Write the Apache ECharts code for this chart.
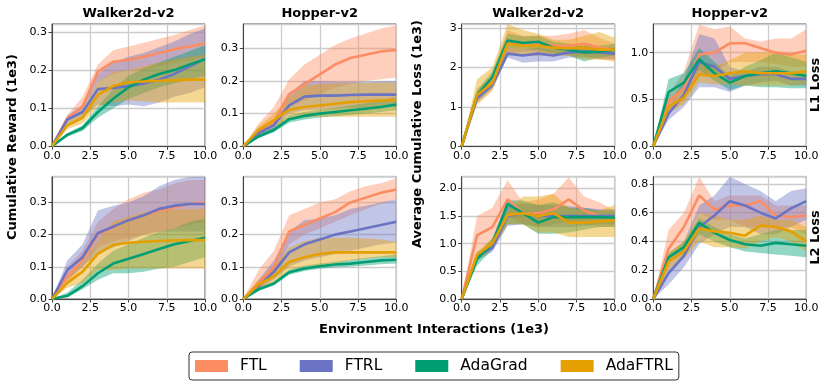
<!DOCTYPE html>
<html>
<head>
<meta charset="utf-8">
<script src="https://cdn.jsdelivr.net/npm/echarts@6/dist/echarts.min.js"></script>
<style>html,body{margin:0;padding:0;background:#fff}#main{width:831px;height:388px}</style>
</head>
<body>
<div id="main"></div>
<script>
// ---------------- DATA ----------------
const steps = [0, 1, 2, 3, 4, 5, 6, 7, 8, 9, 10];
const methods = ['FTL', 'FTRL', 'AdaGrad', 'AdaFTRL'];
const xTicks = [0, 2.5, 5, 7.5, 10];

// Panel 1: Walker2d-v2, cumulative reward, L1 row
const wRewL1_FTL_mean = [0, 0.073, 0.104, 0.196, 0.222, 0.227, 0.235, 0.245, 0.255, 0.262, 0.270];
const wRewL1_FTL_lo   = [0, 0.065, 0.095, 0.170, 0.190, 0.200, 0.200, 0.210, 0.220, 0.225, 0.235];
const wRewL1_FTL_hi   = [0, 0.082, 0.130, 0.215, 0.252, 0.262, 0.272, 0.282, 0.292, 0.305, 0.318];
const wRewL1_FTRL_mean = [0, 0.070, 0.090, 0.150, 0.153, 0.158, 0.165, 0.175, 0.190, 0.210, 0.230];
const wRewL1_FTRL_lo   = [0, 0.060, 0.075, 0.110, 0.105, 0.110, 0.105, 0.115, 0.130, 0.140, 0.155];
const wRewL1_FTRL_hi   = [0, 0.080, 0.110, 0.190, 0.220, 0.235, 0.245, 0.260, 0.275, 0.295, 0.310];
const wRewL1_AdaGrad_mean = [0, 0.030, 0.048, 0.090, 0.125, 0.155, 0.175, 0.190, 0.200, 0.215, 0.228];
const wRewL1_AdaGrad_lo   = [0, 0.025, 0.040, 0.075, 0.100, 0.125, 0.140, 0.155, 0.165, 0.175, 0.185];
const wRewL1_AdaGrad_hi   = [0, 0.035, 0.055, 0.105, 0.150, 0.185, 0.205, 0.220, 0.235, 0.250, 0.265];
const wRewL1_AdaFTRL_mean = [0, 0.055, 0.075, 0.135, 0.158, 0.168, 0.170, 0.172, 0.173, 0.175, 0.175];
const wRewL1_AdaFTRL_lo   = [0, 0.045, 0.060, 0.105, 0.115, 0.120, 0.118, 0.115, 0.115, 0.115, 0.115];
const wRewL1_AdaFTRL_hi   = [0, 0.065, 0.095, 0.170, 0.195, 0.200, 0.210, 0.220, 0.228, 0.235, 0.240];

// Panel 2: Hopper-v2, cumulative reward, L1 row
const hRewL1_FTL_mean = [0, 0.045, 0.075, 0.160, 0.190, 0.220, 0.250, 0.270, 0.280, 0.290, 0.295];
const hRewL1_FTL_lo   = [0, 0.030, 0.055, 0.120, 0.140, 0.160, 0.180, 0.190, 0.200, 0.205, 0.210];
const hRewL1_FTL_hi   = [0, 0.070, 0.120, 0.205, 0.250, 0.280, 0.310, 0.330, 0.345, 0.360, 0.370];
const hRewL1_FTRL_mean = [0, 0.040, 0.065, 0.125, 0.152, 0.155, 0.155, 0.157, 0.158, 0.158, 0.158];
const hRewL1_FTRL_lo   = [0, 0.032, 0.050, 0.100, 0.110, 0.112, 0.115, 0.117, 0.118, 0.120, 0.120];
const hRewL1_FTRL_hi   = [0, 0.050, 0.080, 0.160, 0.200, 0.200, 0.198, 0.198, 0.198, 0.200, 0.200];
const hRewL1_AdaGrad_mean = [0, 0.030, 0.050, 0.083, 0.093, 0.100, 0.105, 0.110, 0.115, 0.120, 0.128];
const hRewL1_AdaGrad_lo   = [0, 0.025, 0.043, 0.072, 0.082, 0.088, 0.092, 0.096, 0.100, 0.105, 0.110];
const hRewL1_AdaGrad_hi   = [0, 0.036, 0.058, 0.095, 0.105, 0.112, 0.118, 0.125, 0.132, 0.140, 0.150];
const hRewL1_AdaFTRL_mean = [0, 0.050, 0.080, 0.112, 0.120, 0.125, 0.130, 0.135, 0.138, 0.140, 0.142];
const hRewL1_AdaFTRL_lo   = [0, 0.038, 0.060, 0.080, 0.088, 0.090, 0.090, 0.090, 0.090, 0.090, 0.090];
const hRewL1_AdaFTRL_hi   = [0, 0.062, 0.100, 0.150, 0.185, 0.190, 0.192, 0.193, 0.194, 0.195, 0.195];

// Panel 3: Walker2d-v2, average cumulative loss, L1 row
const wLossL1_FTL_mean = [0, 1.30, 1.65, 2.60, 2.60, 2.62, 2.55, 2.55, 2.60, 2.50, 2.45];
const wLossL1_FTL_lo   = [0, 1.15, 1.50, 2.35, 2.40, 2.40, 2.30, 2.30, 2.30, 2.20, 2.20];
const wLossL1_FTL_hi   = [0, 1.45, 1.80, 2.95, 2.80, 2.80, 2.80, 2.85, 2.95, 2.75, 2.60];
const wLossL1_FTRL_mean = [0, 1.22, 1.55, 2.35, 2.30, 2.35, 2.30, 2.38, 2.40, 2.38, 2.35];
const wLossL1_FTRL_lo   = [0, 1.10, 1.45, 2.25, 2.12, 2.15, 2.15, 2.25, 2.25, 2.22, 2.20];
const wLossL1_FTRL_hi   = [0, 1.35, 1.65, 2.50, 2.45, 2.50, 2.45, 2.50, 2.55, 2.50, 2.50];
const wLossL1_AdaGrad_mean = [0, 1.30, 1.75, 2.68, 2.62, 2.65, 2.50, 2.45, 2.38, 2.40, 2.45];
const wLossL1_AdaGrad_lo   = [0, 1.18, 1.60, 2.50, 2.45, 2.45, 2.35, 2.30, 2.15, 2.25, 2.30];
const wLossL1_AdaGrad_hi   = [0, 1.42, 1.90, 2.85, 2.78, 2.80, 2.65, 2.60, 2.55, 2.55, 2.60];
const wLossL1_AdaFTRL_mean = [0, 1.30, 1.60, 2.60, 2.55, 2.55, 2.50, 2.48, 2.50, 2.45, 2.45];
const wLossL1_AdaFTRL_lo   = [0, 1.05, 1.40, 2.30, 2.30, 2.30, 2.30, 2.30, 2.20, 2.20, 2.15];
const wLossL1_AdaFTRL_hi   = [0, 1.70, 2.00, 3.10, 2.95, 2.85, 2.70, 2.70, 2.80, 2.90, 2.75];

// Panel 4: Hopper-v2, average cumulative loss, L1 row
const hLossL1_FTL_mean = [0, 0.48, 0.62, 0.98, 1.00, 1.10, 1.10, 1.05, 1.00, 0.98, 1.02];
const hLossL1_FTL_lo   = [0, 0.35, 0.50, 0.75, 0.80, 0.90, 0.90, 0.90, 0.88, 0.85, 0.85];
const hLossL1_FTL_hi   = [0, 0.55, 0.80, 1.30, 1.25, 1.28, 1.15, 1.12, 1.15, 1.15, 1.25];
const hLossL1_FTRL_mean = [0, 0.35, 0.55, 0.90, 0.85, 0.72, 0.75, 0.77, 0.77, 0.72, 0.72];
const hLossL1_FTRL_lo   = [0, 0.28, 0.42, 0.63, 0.63, 0.58, 0.65, 0.68, 0.70, 0.65, 0.65];
const hLossL1_FTRL_hi   = [0, 0.45, 0.70, 1.20, 1.15, 0.85, 0.80, 0.85, 0.85, 0.80, 0.80];
const hLossL1_AdaGrad_mean = [0, 0.58, 0.68, 0.93, 0.78, 0.68, 0.75, 0.78, 0.80, 0.78, 0.75];
const hLossL1_AdaGrad_lo   = [0, 0.50, 0.60, 0.82, 0.70, 0.60, 0.65, 0.63, 0.63, 0.62, 0.62];
const hLossL1_AdaGrad_hi   = [0, 0.72, 0.78, 1.05, 0.90, 0.75, 0.85, 0.92, 1.00, 0.95, 0.90];
const hLossL1_AdaFTRL_mean = [0, 0.42, 0.52, 0.77, 0.75, 0.78, 0.80, 0.78, 0.78, 0.78, 0.80];
const hLossL1_AdaFTRL_lo   = [0, 0.35, 0.45, 0.68, 0.66, 0.66, 0.65, 0.65, 0.65, 0.65, 0.66];
const hLossL1_AdaFTRL_hi   = [0, 0.50, 0.60, 0.88, 0.85, 0.92, 1.00, 1.00, 1.00, 0.98, 0.98];

// Panel 5: Walker2d-v2, cumulative reward, L2 row
const wRewL2_FTL_mean = [0, 0.070, 0.120, 0.200, 0.225, 0.245, 0.260, 0.275, 0.285, 0.295, 0.300];
const wRewL2_FTL_lo   = [0, 0.050, 0.100, 0.160, 0.180, 0.190, 0.200, 0.210, 0.220, 0.230, 0.240];
const wRewL2_FTL_hi   = [0, 0.100, 0.150, 0.240, 0.280, 0.310, 0.330, 0.340, 0.360, 0.370, 0.370];
const wRewL2_FTRL_mean = [0, 0.090, 0.130, 0.205, 0.225, 0.245, 0.260, 0.280, 0.290, 0.295, 0.295];
const wRewL2_FTRL_lo   = [0, 0.060, 0.100, 0.140, 0.160, 0.180, 0.200, 0.210, 0.210, 0.210, 0.210];
const wRewL2_FTRL_hi   = [0, 0.120, 0.170, 0.275, 0.290, 0.300, 0.320, 0.350, 0.370, 0.380, 0.380];
const wRewL2_AdaGrad_mean = [0, 0.010, 0.040, 0.080, 0.110, 0.125, 0.140, 0.155, 0.170, 0.180, 0.190];
const wRewL2_AdaGrad_lo   = [0, 0.005, 0.030, 0.060, 0.080, 0.080, 0.085, 0.095, 0.100, 0.115, 0.130];
const wRewL2_AdaGrad_hi   = [0, 0.020, 0.060, 0.110, 0.150, 0.170, 0.190, 0.210, 0.220, 0.240, 0.250];
const wRewL2_AdaFTRL_mean = [0, 0.050, 0.085, 0.140, 0.168, 0.175, 0.178, 0.180, 0.182, 0.183, 0.183];
const wRewL2_AdaFTRL_lo   = [0, 0.035, 0.050, 0.090, 0.090, 0.095, 0.095, 0.095, 0.095, 0.095, 0.095];
const wRewL2_AdaFTRL_hi   = [0, 0.070, 0.110, 0.180, 0.240, 0.255, 0.270, 0.275, 0.280, 0.280, 0.280];

// Panel 6: Hopper-v2, cumulative reward, L2 row
const hRewL2_FTL_mean = [0, 0.050, 0.100, 0.210, 0.230, 0.250, 0.270, 0.300, 0.315, 0.330, 0.340];
const hRewL2_FTL_lo   = [0, 0.030, 0.070, 0.170, 0.200, 0.220, 0.240, 0.260, 0.280, 0.295, 0.310];
const hRewL2_FTL_hi   = [0, 0.090, 0.150, 0.260, 0.280, 0.300, 0.310, 0.335, 0.350, 0.360, 0.375];
const hRewL2_FTRL_mean = [0, 0.040, 0.085, 0.145, 0.170, 0.185, 0.200, 0.210, 0.220, 0.230, 0.240];
const hRewL2_FTRL_lo   = [0, 0.030, 0.060, 0.100, 0.120, 0.130, 0.140, 0.150, 0.160, 0.170, 0.175];
const hRewL2_FTRL_hi   = [0, 0.060, 0.120, 0.210, 0.245, 0.250, 0.260, 0.280, 0.290, 0.300, 0.310];
const hRewL2_AdaGrad_mean = [0, 0.030, 0.048, 0.083, 0.095, 0.102, 0.107, 0.110, 0.115, 0.120, 0.122];
const hRewL2_AdaGrad_lo   = [0, 0.025, 0.042, 0.075, 0.087, 0.094, 0.098, 0.100, 0.104, 0.108, 0.110];
const hRewL2_AdaGrad_hi   = [0, 0.035, 0.055, 0.092, 0.104, 0.110, 0.116, 0.122, 0.128, 0.133, 0.138];
const hRewL2_AdaFTRL_mean = [0, 0.045, 0.070, 0.115, 0.130, 0.140, 0.145, 0.145, 0.145, 0.145, 0.145];
const hRewL2_AdaFTRL_lo   = [0, 0.035, 0.050, 0.090, 0.100, 0.105, 0.110, 0.120, 0.125, 0.130, 0.130];
const hRewL2_AdaFTRL_hi   = [0, 0.060, 0.100, 0.160, 0.180, 0.190, 0.190, 0.190, 0.188, 0.185, 0.178];

// Panel 7: Walker2d-v2, average cumulative loss, L2 row
const wLossL2_FTL_mean = [0, 1.15, 1.30, 1.80, 1.55, 1.55, 1.62, 1.80, 1.60, 1.50, 1.45];
const wLossL2_FTL_lo   = [0, 0.80, 1.00, 1.50, 1.35, 1.30, 1.35, 1.40, 1.35, 1.30, 1.30];
const wLossL2_FTL_hi   = [0, 1.50, 1.65, 2.15, 1.75, 1.80, 1.90, 2.20, 1.85, 1.75, 1.60];
const wLossL2_FTRL_mean = [0, 0.78, 0.92, 1.50, 1.55, 1.50, 1.50, 1.50, 1.50, 1.50, 1.50];
const wLossL2_FTRL_lo   = [0, 0.70, 0.85, 1.32, 1.35, 1.30, 1.30, 1.30, 1.32, 1.35, 1.35];
const wLossL2_FTRL_hi   = [0, 0.85, 1.00, 1.70, 1.72, 1.70, 1.70, 1.68, 1.65, 1.62, 1.62];
const wLossL2_AdaGrad_mean = [0, 0.72, 1.00, 1.72, 1.55, 1.38, 1.48, 1.48, 1.48, 1.48, 1.47];
const wLossL2_AdaGrad_lo   = [0, 0.60, 0.90, 1.35, 1.35, 1.18, 1.18, 1.20, 1.25, 1.30, 1.30];
const wLossL2_AdaGrad_hi   = [0, 0.80, 1.10, 1.78, 1.78, 1.70, 1.75, 1.65, 1.65, 1.60, 1.60];
const wLossL2_AdaFTRL_mean = [0, 0.80, 1.00, 1.52, 1.55, 1.50, 1.55, 1.38, 1.38, 1.40, 1.42];
const wLossL2_AdaFTRL_lo   = [0, 0.70, 0.90, 1.35, 1.35, 1.20, 1.20, 1.12, 1.12, 1.12, 1.12];
const wLossL2_AdaFTRL_hi   = [0, 0.85, 1.10, 1.60, 1.85, 1.85, 1.90, 1.65, 1.60, 1.60, 1.70];

// Panel 8: Hopper-v2, average cumulative loss, L2 row
const hLossL2_FTL_mean = [0, 0.35, 0.50, 0.72, 0.62, 0.65, 0.65, 0.68, 0.58, 0.57, 0.58];
const hLossL2_FTL_lo   = [0, 0.25, 0.40, 0.60, 0.55, 0.55, 0.50, 0.50, 0.50, 0.50, 0.45];
const hLossL2_FTL_hi   = [0, 0.48, 0.60, 0.85, 0.68, 0.72, 0.72, 0.72, 0.65, 0.65, 0.65];
const hLossL2_FTRL_mean = [0, 0.18, 0.30, 0.50, 0.58, 0.68, 0.65, 0.60, 0.56, 0.63, 0.68];
const hLossL2_FTRL_lo   = [0, 0.10, 0.22, 0.38, 0.45, 0.50, 0.50, 0.45, 0.45, 0.50, 0.55];
const hLossL2_FTRL_hi   = [0, 0.25, 0.40, 0.65, 0.72, 0.85, 0.80, 0.75, 0.68, 0.75, 0.77];
const hLossL2_AdaGrad_mean = [0, 0.29, 0.36, 0.53, 0.46, 0.41, 0.38, 0.37, 0.39, 0.38, 0.37];
const hLossL2_AdaGrad_lo   = [0, 0.26, 0.32, 0.45, 0.40, 0.36, 0.33, 0.32, 0.31, 0.30, 0.29];
const hLossL2_AdaGrad_hi   = [0, 0.32, 0.40, 0.56, 0.50, 0.45, 0.42, 0.45, 0.48, 0.48, 0.48];
const hLossL2_AdaFTRL_mean = [0, 0.26, 0.33, 0.49, 0.47, 0.46, 0.44, 0.51, 0.50, 0.47, 0.40];
const hLossL2_AdaFTRL_lo   = [0, 0.20, 0.28, 0.40, 0.36, 0.36, 0.35, 0.40, 0.43, 0.40, 0.33];
const hLossL2_AdaFTRL_hi   = [0, 0.32, 0.40, 0.60, 0.58, 0.55, 0.55, 0.58, 0.55, 0.55, 0.50];

// ---------------- STYLE / LAYOUT ----------------
const colors = { FTL: '#FC8D62', FTRL: '#6B74C4', AdaGrad: '#009E73', AdaFTRL: '#E69F00' };
const FONT = 'DejaVu Sans';
const colLeft = [52, 243.3, 461.7, 653.3];
const rowTop = [24, 176.7];
const PW = 153, PH = 122.3;

const panelData = [
  { p: 'wRewL1', yMax: 0.321, yInt: 0.1, dec: 1 },
  { p: 'hRewL1', yMax: 0.374, yInt: 0.1, dec: 1 },
  { p: 'wLossL1', yMax: 3.1, yInt: 1, dec: 0 },
  { p: 'hLossL1', yMax: 1.306, yInt: 0.5, dec: 1 },
  { p: 'wRewL2', yMax: 0.38, yInt: 0.1, dec: 1 },
  { p: 'hRewL2', yMax: 0.38, yInt: 0.1, dec: 1 },
  { p: 'wLossL2', yMax: 2.21, yInt: 0.5, dec: 1 },
  { p: 'hLossL2', yMax: 0.85, yInt: 0.2, dec: 1 }
];
const dataLookup = {
  wRewL1: { FTL: [wRewL1_FTL_mean, wRewL1_FTL_lo, wRewL1_FTL_hi], FTRL: [wRewL1_FTRL_mean, wRewL1_FTRL_lo, wRewL1_FTRL_hi], AdaGrad: [wRewL1_AdaGrad_mean, wRewL1_AdaGrad_lo, wRewL1_AdaGrad_hi], AdaFTRL: [wRewL1_AdaFTRL_mean, wRewL1_AdaFTRL_lo, wRewL1_AdaFTRL_hi] },
  hRewL1: { FTL: [hRewL1_FTL_mean, hRewL1_FTL_lo, hRewL1_FTL_hi], FTRL: [hRewL1_FTRL_mean, hRewL1_FTRL_lo, hRewL1_FTRL_hi], AdaGrad: [hRewL1_AdaGrad_mean, hRewL1_AdaGrad_lo, hRewL1_AdaGrad_hi], AdaFTRL: [hRewL1_AdaFTRL_mean, hRewL1_AdaFTRL_lo, hRewL1_AdaFTRL_hi] },
  wLossL1: { FTL: [wLossL1_FTL_mean, wLossL1_FTL_lo, wLossL1_FTL_hi], FTRL: [wLossL1_FTRL_mean, wLossL1_FTRL_lo, wLossL1_FTRL_hi], AdaGrad: [wLossL1_AdaGrad_mean, wLossL1_AdaGrad_lo, wLossL1_AdaGrad_hi], AdaFTRL: [wLossL1_AdaFTRL_mean, wLossL1_AdaFTRL_lo, wLossL1_AdaFTRL_hi] },
  hLossL1: { FTL: [hLossL1_FTL_mean, hLossL1_FTL_lo, hLossL1_FTL_hi], FTRL: [hLossL1_FTRL_mean, hLossL1_FTRL_lo, hLossL1_FTRL_hi], AdaGrad: [hLossL1_AdaGrad_mean, hLossL1_AdaGrad_lo, hLossL1_AdaGrad_hi], AdaFTRL: [hLossL1_AdaFTRL_mean, hLossL1_AdaFTRL_lo, hLossL1_AdaFTRL_hi] },
  wRewL2: { FTL: [wRewL2_FTL_mean, wRewL2_FTL_lo, wRewL2_FTL_hi], FTRL: [wRewL2_FTRL_mean, wRewL2_FTRL_lo, wRewL2_FTRL_hi], AdaGrad: [wRewL2_AdaGrad_mean, wRewL2_AdaGrad_lo, wRewL2_AdaGrad_hi], AdaFTRL: [wRewL2_AdaFTRL_mean, wRewL2_AdaFTRL_lo, wRewL2_AdaFTRL_hi] },
  hRewL2: { FTL: [hRewL2_FTL_mean, hRewL2_FTL_lo, hRewL2_FTL_hi], FTRL: [hRewL2_FTRL_mean, hRewL2_FTRL_lo, hRewL2_FTRL_hi], AdaGrad: [hRewL2_AdaGrad_mean, hRewL2_AdaGrad_lo, hRewL2_AdaGrad_hi], AdaFTRL: [hRewL2_AdaFTRL_mean, hRewL2_AdaFTRL_lo, hRewL2_AdaFTRL_hi] },
  wLossL2: { FTL: [wLossL2_FTL_mean, wLossL2_FTL_lo, wLossL2_FTL_hi], FTRL: [wLossL2_FTRL_mean, wLossL2_FTRL_lo, wLossL2_FTRL_hi], AdaGrad: [wLossL2_AdaGrad_mean, wLossL2_AdaGrad_lo, wLossL2_AdaGrad_hi], AdaFTRL: [wLossL2_AdaFTRL_mean, wLossL2_AdaFTRL_lo, wLossL2_AdaFTRL_hi] },
  hLossL2: { FTL: [hLossL2_FTL_mean, hLossL2_FTL_lo, hLossL2_FTL_hi], FTRL: [hLossL2_FTRL_mean, hLossL2_FTRL_lo, hLossL2_FTRL_hi], AdaGrad: [hLossL2_AdaGrad_mean, hLossL2_AdaGrad_lo, hLossL2_AdaGrad_hi], AdaFTRL: [hLossL2_AdaFTRL_mean, hLossL2_AdaFTRL_lo, hLossL2_AdaFTRL_hi] }
};

const grids = [], xAxes = [], yAxes = [], series = [];
const splitLineStyle = { color: '#cccccc', width: 1.3 };
const axisLabelBase = { fontFamily: FONT, fontSize: 11, color: '#000' };

panelData.forEach((pd, i) => {
  const r = Math.floor(i / 4), c = i % 4;
  grids.push({ left: colLeft[c], top: rowTop[r], width: PW, height: PH, show: true, borderColor: '#444', borderWidth: 1, containLabel: false });
  xAxes.push({
    type: 'value', gridIndex: i, min: xTicks[0], max: xTicks[xTicks.length - 1], interval: xTicks[1] - xTicks[0],
    axisLine: { show: true, onZero: false, lineStyle: { color: '#444', width: 1 } },
    axisTick: { show: true, length: 3.5, lineStyle: { color: '#444' } },
    axisLabel: Object.assign({ margin: 4, formatter: v => v.toFixed(1) }, axisLabelBase),
    splitLine: { show: true, lineStyle: splitLineStyle }
  });
  const int = pd.yInt, dec = pd.dec;
  yAxes.push({
    type: 'value', gridIndex: i, min: 0, max: pd.yMax, interval: int,
    axisLine: { show: true, onZero: false, lineStyle: { color: '#444', width: 1 } },
    axisTick: { show: true, length: 3.5, lineStyle: { color: '#444' } },
    axisLabel: Object.assign({ margin: 5, showMaxLabel: false,
      formatter: v => (Math.abs(v / int - Math.round(v / int)) < 1e-6) ? v.toFixed(dec) : '' }, axisLabelBase),
    splitLine: { show: true, lineStyle: splitLineStyle }
  });
  const d = dataLookup[pd.p];
  // shaded bands (polygon between lower and upper bound, placed via axis scales)
  methods.forEach((m) => {
    const lo = d[m][1], hi = d[m][2];
    series.push({
      type: 'custom', name: m + ' band', xAxisIndex: i, yAxisIndex: i, silent: true, z: 1,
      clip: true, animation: false,
      data: [[steps[0], lo[0]]],
      encode: { x: 0, y: 1 },
      renderItem: (params, api) => {
        const pts = [];
        steps.forEach((x, k) => pts.push(api.coord([x, hi[k]])));
        for (let k = steps.length - 1; k >= 0; k--) pts.push(api.coord([steps[k], lo[k]]));
        return { type: 'polygon', shape: { points: pts }, style: { fill: colors[m], opacity: 0.42 } };
      }
    });
  });
  // mean lines
  methods.forEach((m, j) => {
    const mean = d[m][0];
    series.push({
      type: 'line', name: m, xAxisIndex: i, yAxisIndex: i,
      data: steps.map((x, k) => [x, mean[k]]), symbol: 'none', silent: true, z: 3 + j,
      lineStyle: { color: colors[m], width: 2.6 }, itemStyle: { color: colors[m] }, animation: false
    });
  });
});

const titleStyle = { fontFamily: FONT, fontSize: 13, fontWeight: 'bold', fill: '#000', textAlign: 'center', textVerticalAlign: 'middle' };
const graphics = [
  { type: 'text', x: 128.5, y: 13.5, style: Object.assign({ text: 'Walker2d-v2' }, titleStyle) },
  { type: 'text', x: 319.7, y: 13.5, style: Object.assign({ text: 'Hopper-v2' }, titleStyle) },
  { type: 'text', x: 538.2, y: 13.5, style: Object.assign({ text: 'Walker2d-v2' }, titleStyle) },
  { type: 'text', x: 729.7, y: 13.5, style: Object.assign({ text: 'Hopper-v2' }, titleStyle) },
  { type: 'text', x: 13, y: 147, rotation: Math.PI / 2, style: Object.assign({ text: 'Cumulative Reward (1e3)' }, titleStyle) },
  { type: 'text', x: 418, y: 134, rotation: Math.PI / 2, style: Object.assign({ text: 'Average Cumulative Loss (1e3)' }, titleStyle) },
  { type: 'text', x: 816, y: 85, rotation: Math.PI / 2, style: Object.assign({ text: 'L1 Loss' }, titleStyle) },
  { type: 'text', x: 816, y: 237.5, rotation: Math.PI / 2, style: Object.assign({ text: 'L2 Loss' }, titleStyle) },
  { type: 'text', x: 434, y: 329.5, style: Object.assign({ text: 'Environment Interactions (1e3)' }, titleStyle) }
];

const chart = echarts.init(document.getElementById('main'), null, { renderer: 'canvas' });
chart.setOption({
  animation: false,
  backgroundColor: '#fff',
  grid: grids,
  xAxis: xAxes,
  yAxis: yAxes,
  series: series,
  graphic: graphics,
  legend: {
    data: methods.map(m => ({ name: m, icon: 'rect', itemStyle: { color: colors[m] } })),
    left: 189, top: 352,
    orient: 'horizontal',
    itemWidth: 33, itemHeight: 12, itemGap: 33,
    padding: [6, 6, 6, 6],
    borderColor: '#333', borderWidth: 1, borderRadius: 3,
    textStyle: { fontFamily: FONT, fontSize: 15.5, color: '#000', padding: [0, 0, 0, 7], lineHeight: 16 },
    selectedMode: false
  }
});
</script>
</body>
</html>
